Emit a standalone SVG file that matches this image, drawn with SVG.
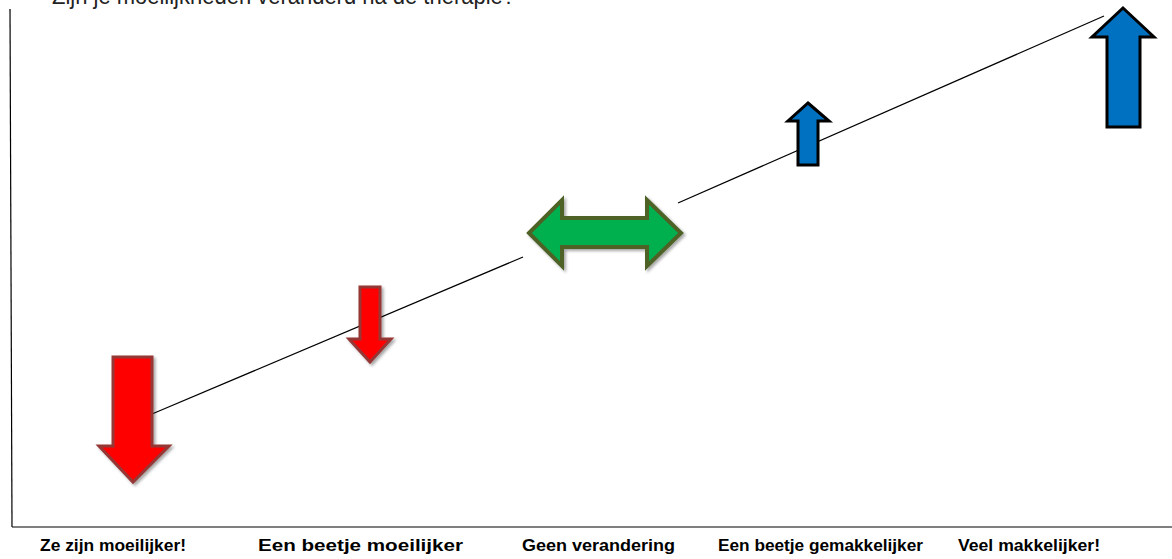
<svg xmlns="http://www.w3.org/2000/svg" width="1172" height="559" viewBox="0 0 1172 559">
  <defs>
    <filter id="shadow" x="-20%" y="-20%" width="140%" height="140%">
      <feGaussianBlur in="SourceAlpha" stdDeviation="1.5"/>
      <feOffset dx="1.5" dy="2" result="b"/>
      <feFlood flood-color="#000" flood-opacity="0.35"/>
      <feComposite in2="b" operator="in"/>
      <feMerge><feMergeNode/><feMergeNode in="SourceGraphic"/></feMerge>
    </filter>
  </defs>
  <style>
    .axis { stroke: #000; stroke-width: 1.2; fill: none; }
    .trend { stroke: #000; stroke-width: 1.2; fill: none; }
    .red { fill: #FF0000; stroke: #953735; stroke-width: 3; stroke-linejoin: miter; filter: url(#shadow); }
    .green { fill: #00B050; stroke: #4F6228; stroke-width: 4; stroke-linejoin: miter; filter: url(#shadow); }
    .blue { fill: #0070C0; stroke: #000; stroke-width: 3; stroke-linejoin: miter; }
    .label { font-family: "Liberation Sans", Arial, sans-serif; font-weight: bold; font-size: 16px; fill: #000; text-anchor: middle; }
    .title { font-family: "Liberation Sans", Arial, sans-serif; font-size: 24px; fill: #222; }
  </style>
  <rect width="1172" height="559" fill="#fff"/>
  <text class="title" x="52" y="4" textLength="463" lengthAdjust="spacingAndGlyphs">Zijn je moeilijkheden veranderd na de therapie?</text>
  <g id="axes">
    <line class="axis" x1="10" y1="9" x2="12" y2="527"/>
    <line class="axis" x1="12" y1="527" x2="1172" y2="527"/>
  </g>
  <g id="connectors">
    <line class="trend" x1="152" y1="414" x2="523" y2="257"/>
    <line class="trend" x1="678" y1="203" x2="1104" y2="16"/>
  </g>
  <g id="arrow-big-down">
    <polygon class="red" points="113,357 152,357 152,446 169,446 133,482 99,446 113,446"/>
  </g>
  <g id="arrow-small-down">
    <polygon class="red" points="360,287 380,287 380,339 391,339 370,362 349,339 360,339"/>
  </g>
  <g id="arrow-both">
    <polygon class="green" points="529,233 562,200 562,218 647,218 647,200 681,233 647,266 647,247 562,247 562,266"/>
  </g>
  <g id="arrow-small-up">
    <polygon class="blue" points="808,103 829,121 818,121 818,165 798,165 798,121 788,121"/>
  </g>
  <g id="arrow-big-up">
    <polygon class="blue" points="1123,8 1154,37 1140,37 1140,127 1107,127 1107,37 1092,37"/>
  </g>
  <g id="labels">
    <text class="label" x="113" y="551" textLength="146" lengthAdjust="spacingAndGlyphs">Ze zijn moeilijker!</text>
    <text class="label" x="360.5" y="551" textLength="205" lengthAdjust="spacingAndGlyphs">Een beetje moeilijker</text>
    <text class="label" x="598.5" y="551" textLength="153" lengthAdjust="spacingAndGlyphs">Geen verandering</text>
    <text class="label" x="820.5" y="551" textLength="205" lengthAdjust="spacingAndGlyphs">Een beetje gemakkelijker</text>
    <text class="label" x="1029" y="551" textLength="142" lengthAdjust="spacingAndGlyphs">Veel makkelijker!</text>
  </g>
</svg>
